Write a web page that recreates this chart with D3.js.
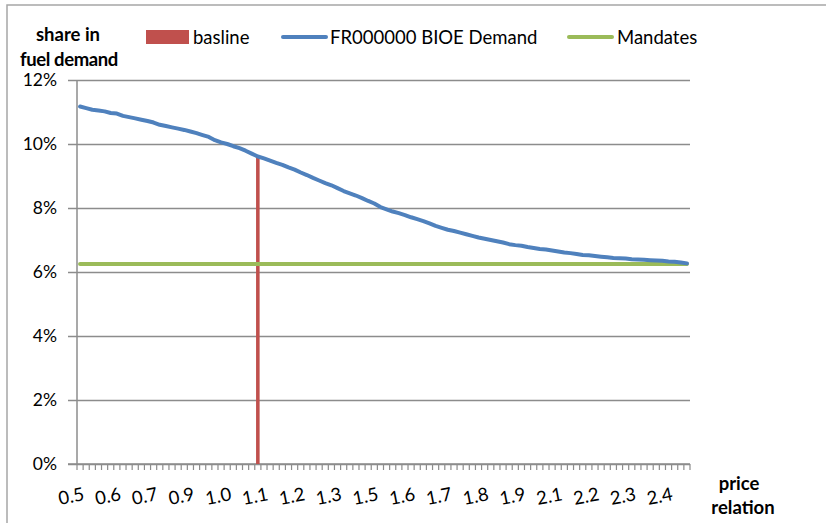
<!DOCTYPE html>
<html>
<head>
<meta charset="utf-8">
<script src="https://cdn.jsdelivr.net/npm/d3@7"></script>
<style>
  body { margin: 0; background: #fff; }
  svg text { font-family: Lato, "Open Sans", sans-serif; fill: #000; }
</style>
</head>
<body>
<div id="chart"></div>
<script>
// price relation categories (x axis)
let categories = ["0.50","0.52","0.54","0.56","0.58","0.60","0.62","0.64","0.66","0.68",
                  "0.70","0.72","0.74","0.76","0.78","0.80","0.82","0.84","0.86","0.88",
                  "0.90","0.92","0.94","0.96","0.98","1.00","1.02","1.04","1.06","1.08",
                  "1.10","1.12","1.14","1.16","1.18","1.20","1.22","1.24","1.26","1.28",
                  "1.30","1.32","1.34","1.36","1.38","1.40","1.42","1.44","1.46","1.48",
                  "1.50","1.52","1.54","1.56","1.58","1.60","1.62","1.64","1.66","1.68",
                  "1.70","1.72","1.74","1.76","1.78","1.80","1.82","1.84","1.86","1.88",
                  "1.90","1.92","1.94","1.96","1.98","2.00","2.02","2.04","2.06","2.08",
                  "2.10","2.12","2.14","2.16","2.18","2.20","2.22","2.24","2.26","2.28",
                  "2.30","2.32","2.34","2.36","2.38","2.40","2.42","2.44","2.46","2.48"];

// share in fuel demand, %
let demand = [11.17,11.12,11.07,11.05,11.02,10.97,10.95,10.88,10.84,10.80,
              10.76,10.72,10.67,10.60,10.56,10.52,10.48,10.44,10.39,10.34,
              10.28,10.22,10.12,10.05,10.00,9.93,9.87,9.79,9.70,9.61,
              9.55,9.48,9.41,9.35,9.27,9.20,9.11,9.03,8.94,8.86,
              8.78,8.71,8.62,8.53,8.46,8.39,8.31,8.22,8.14,8.03,
              7.96,7.89,7.84,7.78,7.71,7.65,7.59,7.52,7.44,7.38,
              7.32,7.28,7.23,7.18,7.13,7.08,7.04,7.00,6.96,6.92,
              6.87,6.84,6.82,6.78,6.75,6.72,6.70,6.67,6.64,6.61,
              6.59,6.56,6.53,6.52,6.50,6.48,6.46,6.44,6.43,6.42,
              6.40,6.39,6.38,6.37,6.36,6.35,6.33,6.32,6.30,6.27];

let mandate = 6.25;          // constant mandate share, %
let baselineCat = "1.08";    // basline column
let baselineValue = 9.63;

let yTicks = [0, 2, 4, 6, 8, 10, 12];
let labelEvery = 6;

let legendItems = ["basline", "FR000000 BIOE Demand", "Mandates"];
let colors = {basline: "#C0504D", demand: "#4F81BD", mandates: "#9BBB59"};

let width = 826, height = 523;
let margin = {top: 80, right: 136, bottom: 59, left: 77};

let svg = d3.select("#chart")
  .append("svg")
    .attr("width", width)
    .attr("height", height);

// outer chart frame
svg.append("rect")
  .attr("x", 7).attr("y", 5)
  .attr("width", width).attr("height", height)
  .attr("fill", "none")
  .attr("stroke", "#a6a6a6")
  .attr("stroke-width", 1.5);

let x = d3.scaleBand()
  .domain(categories)
  .range([margin.left, width - margin.right])
  .paddingInner(0).paddingOuter(0);

let y = d3.scaleLinear()
  .domain([0, 12])
  .range([height - margin.bottom, margin.top]);

let cx = function(c) { return x(c) + x.bandwidth() / 2; };

// gridlines + y ticks
let yAxis = svg.append("g")
  .attr("transform", "translate(" + margin.left + ",0)")
  .call(d3.axisLeft(y)
    .tickValues(yTicks)
    .tickSize(-(width - margin.right - margin.left))
    .tickFormat(function(d) { return d + "%"; }));
yAxis.select(".domain").remove();
yAxis.selectAll(".tick line")
  .attr("x1", -9)
  .attr("stroke", "#8c8c8c")
  .attr("stroke-width", 1.3);
yAxis.selectAll(".tick text")
  .attr("x", -20)
  .attr("font-size", 17.5);

// y axis line
svg.append("line")
  .attr("x1", margin.left).attr("x2", margin.left)
  .attr("y1", y(12)).attr("y2", y(0))
  .attr("stroke", "#8c8c8c").attr("stroke-width", 1.5);

// x axis: ticks at category boundaries
let xg = svg.append("g");
let bounds = categories.map(function(c) { return x(c); }).concat([x(categories[categories.length - 1]) + x.bandwidth()]);
xg.selectAll("line.tk")
  .data(bounds)
  .enter().append("line")
  .attr("class", "tk")
  .attr("x1", function(d) { return d; }).attr("x2", function(d) { return d; })
  .attr("y1", y(0)).attr("y2", y(0) + 6)
  .attr("stroke", "#8c8c8c").attr("stroke-width", 1.2);
xg.append("line")
  .attr("x1", margin.left - 9).attr("x2", width - margin.right)
  .attr("y1", y(0)).attr("y2", y(0))
  .attr("stroke", "#8c8c8c").attr("stroke-width", 1.5);

xg.selectAll("text.xl")
  .data(categories.filter(function(c, i) { return i % labelEvery === 0; }))
  .enter().append("text")
  .attr("class", "xl")
  .attr("font-size", 18.5)
  .attr("text-anchor", "end")
  .attr("transform", function(c) { return "translate(" + (cx(c) + 5) + "," + (y(0) + 36) + ") rotate(-11)"; })
  .text(function(c) { return (+c).toFixed(1); });

// basline column
let bw = x.bandwidth() * 0.58;
svg.append("rect")
  .attr("x", cx(baselineCat) - bw / 2)
  .attr("y", y(baselineValue))
  .attr("width", bw)
  .attr("height", y(0) - y(baselineValue))
  .attr("fill", colors.basline);

// mandates line
let line = d3.line()
  .x(function(d) { return cx(d[0]); })
  .y(function(d) { return y(d[1]); });

svg.append("path")
  .datum(categories.map(function(c) { return [c, mandate]; }))
  .attr("d", line)
  .attr("fill", "none")
  .attr("stroke", colors.mandates)
  .attr("stroke-width", 4)
  .attr("stroke-linecap", "round");

// demand line
svg.append("path")
  .datum(categories.map(function(c, i) { return [c, demand[i]]; }))
  .attr("d", line)
  .attr("fill", "none")
  .attr("stroke", colors.demand)
  .attr("stroke-width", 4)
  .attr("stroke-linejoin", "round")
  .attr("stroke-linecap", "round");

// axis titles
let yt = svg.append("text")
  .attr("text-anchor", "middle")
  .attr("font-weight", "bold")
  .attr("font-size", 18.5);
yt.append("tspan").attr("x", 68).attr("y", 41).text("share in");
yt.append("tspan").attr("x", 69).attr("y", 66).attr("letter-spacing", -0.4).text("fuel demand");

let xt = svg.append("text")
  .attr("text-anchor", "middle")
  .attr("font-weight", "bold")
  .attr("font-size", 18.5);
xt.append("tspan").attr("x", 739).attr("y", 490).text("price");
xt.append("tspan").attr("x", 743).attr("y", 514).text("relation");

// legend
let lg = svg.append("g").attr("font-size", 18.5);
lg.append("rect")
  .attr("x", 146).attr("y", 30).attr("width", 43).attr("height", 14)
  .attr("fill", colors.basline);
lg.append("text").attr("x", 193).attr("y", 44).text(legendItems[0]);

lg.append("line")
  .attr("x1", 283).attr("x2", 326).attr("y1", 37).attr("y2", 37)
  .attr("stroke", colors.demand).attr("stroke-width", 4).attr("stroke-linecap", "round");
lg.append("text").attr("x", 330).attr("y", 44).text(legendItems[1]);

lg.append("line")
  .attr("x1", 569).attr("x2", 612).attr("y1", 37).attr("y2", 37)
  .attr("stroke", colors.mandates).attr("stroke-width", 4).attr("stroke-linecap", "round");
lg.append("text").attr("x", 617).attr("y", 44).text(legendItems[2]);
</script>
</body>
</html>
